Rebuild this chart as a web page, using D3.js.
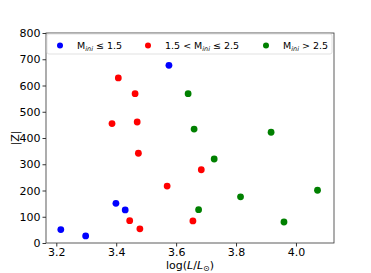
<!DOCTYPE html>
<meta charset="utf-8">
<script src="https://d3js.org/d3.v7.min.js"></script>
<style>
  body { margin: 0; background: #fff; }
  text { font-family: "DejaVu Sans", sans-serif; }
</style>
<div id="chart"></div>
<script>
// data: log(L/Lsun) and |Z|
var lowX  = [3.576, 3.399, 3.430, 3.215, 3.298];
var lowY  = [677, 151, 126, 51, 27];
var midX  = [3.407, 3.463, 3.386, 3.470, 3.474, 3.684, 3.570, 3.445, 3.479, 3.656];
var midY  = [629, 569, 455, 461, 342, 279, 217, 85, 54, 84];
var highX = [3.640, 3.660, 3.675, 3.917, 3.727, 3.815, 4.072, 3.960];
var highY = [569, 434, 127, 422, 320, 176, 201, 80];
var xTicks = [3.2, 3.4, 3.6, 3.8, 4.0];
var yTicks = [0, 100, 200, 300, 400, 500, 600, 700, 800];

var groups = [
  {xs: lowX, ys: lowY, color: "#0000ff", pre: "M", post: "\u2264 1.5"},
  {xs: midX, ys: midY, color: "#ff0000", pre: "1.5 < M", post: "\u2264 2.5"},
  {xs: highX, ys: highY, color: "#008000", pre: "M", post: "> 2.5"}
];

var W = 371, H = 273;
var margin = {top: 33, right: 37, bottom: 30, left: 46},
    width = W - margin.left - margin.right,
    height = H - margin.top - margin.bottom;

var svg = d3.select("#chart").append("svg")
    .attr("width", W).attr("height", H)
  .append("g")
    .attr("transform", "translate(" + margin.left + "," + margin.top + ")");

var x = d3.scaleLinear().domain([3.1656, 4.127]).range([0, width]);
var y = d3.scaleLinear().domain([0, 800]).range([height, 0]);

// axes
var xAxis = svg.append("g")
    .attr("transform", "translate(0," + height + ")")
    .call(d3.axisBottom(x).tickValues(xTicks).tickFormat(d3.format(".1f")).tickSize(3.5).tickPadding(1.5));
var yAxis = svg.append("g")
    .call(d3.axisLeft(y).tickValues(yTicks).tickSize(3.5).tickPadding(2));
[xAxis, yAxis].forEach(function(a) {
  a.select(".domain").remove();
  a.selectAll("text").style("font-size", "11px").attr("fill", "#000");
  a.selectAll("line").attr("stroke", "#000").attr("stroke-width", 0.8);
});

// frame
svg.append("rect")
  .attr("width", width).attr("height", height)
  .attr("fill", "none").attr("stroke", "#333").attr("stroke-width", 0.8);

// points
groups.forEach(function(g) {
  svg.append("g").selectAll("circle")
    .data(g.xs.map(function(v, i) { return [v, g.ys[i]]; }))
    .enter().append("circle")
      .attr("cx", function(d) { return x(d[0]); })
      .attr("cy", function(d) { return y(d[1]); })
      .attr("r", 3.4)
      .attr("fill", g.color);
});

// legend
var leg = svg.append("g").attr("transform", "translate(1,1)");
leg.append("rect")
  .attr("width", 285).attr("height", 20).attr("rx", 2)
  .attr("fill", "#fff").attr("fill-opacity", 0.8)
  .attr("stroke", "#d9d9d9").attr("stroke-width", 0.8);
var legX = [13, 101, 219];
groups.forEach(function(g, i) {
  leg.append("circle").attr("cx", legX[i]).attr("cy", 11.5).attr("r", 3).attr("fill", g.color);
  var t = leg.append("text").attr("x", legX[i] + 17).attr("y", 15)
    .style("font-size", "9.5px").attr("fill", "#000");
  t.append("tspan").text(g.pre);
  t.append("tspan").attr("dy", 2).style("font-size", "6.5px").style("font-style", "italic").text("ini");
  t.append("tspan").attr("dy", -2).text(" " + g.post);
});

// axis labels
var xl = svg.append("text")
  .attr("x", width / 2).attr("y", height + 25.5)
  .attr("text-anchor", "middle").style("font-size", "11px");
xl.append("tspan").text("log(");
xl.append("tspan").style("font-style", "italic").text("L");
xl.append("tspan").text("/");
xl.append("tspan").style("font-style", "italic").text("L");
xl.append("tspan").attr("dy", 2).style("font-size", "8px").text("\u2299");
xl.append("tspan").attr("dy", -2).text(")");

svg.append("text")
  .attr("transform", "translate(-27," + (height / 2) + ") rotate(-90)")
  .attr("text-anchor", "middle").style("font-size", "11px")
  .text("|Z|");
</script>
